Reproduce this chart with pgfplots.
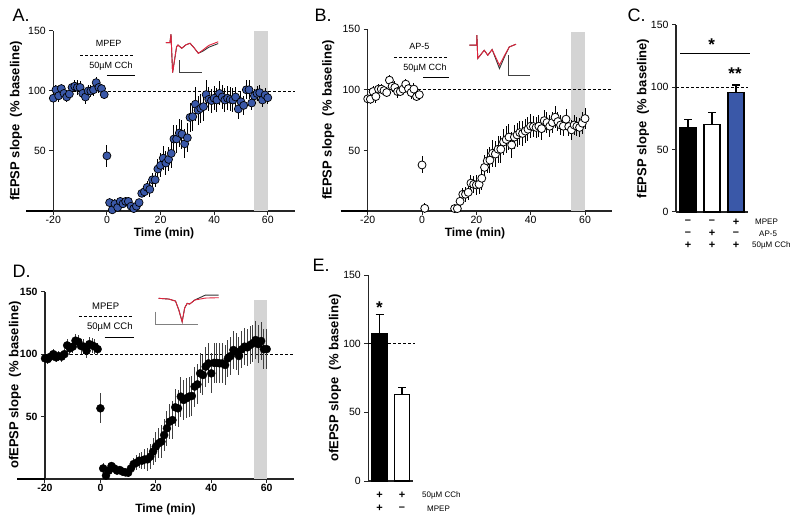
\documentclass[border=0pt]{standalone}
\usepackage{pgfplots}
\usepackage{pgfplotstable}
\pgfplotsset{compat=1.18}
\usepackage{fontspec}
\setmainfont{Liberation Sans}
\definecolor{pblue}{RGB}{58,88,168}
\definecolor{tred}{RGB}{225,35,60}
\definecolor{shade}{RGB}{212,212,212}
\newcommand{\fs}[1]{\fontsize{#1}{#1}\selectfont}

\pgfplotstableread{
t v e
-20 94 4
-19 101 4
-18 96 5
-17 102 4
-16 98 4
-15 95 4
-14 97.5 4
-13 103 4
-12 104 5
-11 103 6
-10 103 5
-9 98 5
-8 95 6
-7 100 5
-6 100 5
-5 101 5
-4 107 5
-3 103 5
-2 102 4
-1 97 4
0 46 9
1 7 4
2 1 3
3 6 4
4 3 3
5 8 3
6 6 3
7 8 3
8 8 3
9 4 3
10 2 3
11 4 3
12 7 3
13 14.7 3
14 16 4
15 19.7 5
16 18 6
17 26 6
18 26 6
19 35 8
20 38 10
21 44 10
22 40 10
23 43 10
24 48 12
25 60 12
26 60 12
27 65 12
28 64 12
29 56 12
30 61 12
31 78 12
32 78.6 12
33 89 14
34 84 12
35 85.5 12
36 87 12
37 97 12
38 93 10
39 92 10
40 94 10
41 92.5 10
42 98 10
43 95 10
44 92.5 10
45 94 10
46 93 10
47 92.5 10
48 95 8
49 85 8
50 91 8
51 88 8
52 101 8
53 101 8
54 90 6
55 96 6
56 98 6
57 98.6 6
58 92.5 6
59 96.7 6
60 94.4 5
}\Adata

\pgfplotstableread{
t v e
-20 92.6 4
-19 92.3 4
-18 98.6 5
-17 94.5 5
-16 100.6 4
-15 100.6 4
-14 99.4 4
-13 97.8 4
-12 108 4
-11 103 5
-10 102 5
-9 98.6 5
-8 98.6 4
-7 100.6 4
-6 104.7 4
-5 101 4
-4 97.8 5
-3 100.6 5
-2 94.5 4
-1 96 4
0 38 7
1 2.2 4
12 2 3
13 2 3
14 8 4
15 13.8 5
16 13.8 6
17 15.4 6
18 23 7
19 22 7
20 21.5 8
21 22 8
22 27 10
23 36 10
24 41.3 10
25 42 11
26 47.7 11
27 47 11
28 51 11
29 51 11
30 57 11
31 59 11
32 61 11
33 54.5 11
34 61 10
35 62.8 10
36 64.7 10
37 64 10
38 66 10
39 67.5 10
40 70 10
41 69.7 9
42 69 9
43 70 9
44 68 9
45 74.6 9
46 73 9
47 70 9
48 73 9
49 77.4 9
50 73.8 8
51 71 8
52 70 8
53 75.8 8
54 69.7 8
55 67 8
56 71 8
57 70 8
58 69 8
59 72.5 9
60 76.3 9
}\Bdata

\pgfplotstableread{
t v e
-20 96.6 4
-19 96 4
-18 98 4
-17 100 4
-16 97.4 4
-15 98.5 4
-14 98 4
-13 100 4
-12 107 5
-11 104.6 5
-10 106 5
-9 110.8 5
-8 110 5
-7 106.5 6
-6 106 6
-5 102.7 6
-4 108 6
-3 107 6
-2 106 6
-1 104 5
0 56.6 12
1 8.5 4
2 2.7 3
3 6.7 3
4 10.4 3
5 8.5 3
6 6.7 3
7 7.2 3
8 5.9 3
9 5.3 3
10 5 3
11 8.5 4
12 12 5
13 13 6
14 14.7 6
15 14.7 7
16 15.7 8
17 15.7 9
18 17.9 10
19 21.9 11
20 25.9 12
21 28.6 12
22 29.9 13
23 35.2 13
24 40.6 14
25 45.9 14
26 47.2 15
27 57.4 15
28 56.6 15
29 66 16
30 63.3 16
31 64.6 16
32 66 16
33 66.5 16
34 74 16
35 75.8 16
36 84.6 16
37 83.3 16
38 90 16
39 92.6 16
40 84.6 16
41 93 16
42 93 16
43 92.6 16
44 92.6 16
45 91.3 16
46 96.6 15
47 98.5 15
48 103.3 15
49 102 15
50 98.5 15
51 103.8 15
52 106 15
53 105.4 15
54 107.3 15
55 108.6 15
56 111.3 15
57 108 15
58 110.5 15
59 104 16
60 104 16
}\Ddata

\pgfplotsset{
  prism/.style={
    scale only axis, clip=false,
    axis x line=bottom, axis y line=left,
    axis line style={-, line width=1.1pt, black!85},
    tick style={line width=1pt, black!85},
    tick align=outside, major tick length=4pt,
    /pgf/number format/assume math mode=true,
    tick label style={font=\fs{10.5}},
    xticklabel style={yshift=2pt},
    ymin=0, ymax=150,
  },
  time/.style={prism, xmin=-20, xmax=70, xtick={-20,0,20,40,60}, ytick={50,100,150}},
  pts/.style={
    error bars/.cd, y dir=both, y explicit, error mark=none,
    error bar style={line width=1pt, black},
    /pgfplots/.cd, only marks, mark=*, mark size=4pt},
  ref/.style={black, line width=0.9pt, dash pattern=on 3pt off 2pt},
  trace/.style={line width=0.9pt, no marks},
  bar/.style={
    error bars/.cd, y dir=plus, y explicit,
    error bar style={line width=1.2pt, black},
    error mark options={rotate=90, mark size=4pt, line width=1.2pt},
    /pgfplots/.cd, ybar, bar width=#1, bar shift=0pt, draw=black, line width=1.3pt},
}

\begin{document}
\begin{tikzpicture}[x=1pt,y=1pt]
\useasboundingbox (0,0) rectangle (800,525);

% ---------------- A ----------------
\begin{axis}[time, at={(53.3pt,314pt)}, anchor=south west, width=241.3pt, height=180pt]
\addplot[fill=shade, draw=none] coordinates {(55,150) (60,150)} \closedcycle;
\addplot[ref] coordinates {(-20,100) (70,100)};
\addplot[black, line width=1.1pt] coordinates {(-30,0) (-20,0)};
\addplot[pts, mark options={fill=pblue, draw=black, line width=0.7pt}]
  table[x=t, y=v, y error=e] {\Adata};
\addplot[ref] coordinates {(-10,130) (10.4,130)};
\addplot[black, line width=1pt] coordinates {(0,112.5) (10.4,112.5)};
\node[font=\fs{9}] at (axis cs:0.6,140) {MPEP};
\node[font=\fs{9}] at (axis cs:1.5,121) {50µM CCh};
\addplot[trace, black!80] coordinates {(22,140.3) (23.5,140.3) (23.9,147.3) (24.5,115.3) (26,137) (26.5,138.3) (27.9,135.6) (29.5,138.5) (31,139.8) (32.5,136) (34.1,131.4) (36,133.5) (38,136.5) (41.5,139.5)};
\addplot[trace, tred] coordinates {(22,140.3) (23.5,140.3) (23.9,147.3) (24.5,115.3) (26,137) (26.5,138.3) (27.9,135.6) (29.5,138.5) (31,139.8) (32.5,136) (34.1,131.4) (36,134.5) (38,138) (41.5,141)};
\addplot[black!75, line width=0.8pt] coordinates {(27.2,125.8) (27.2,115.3) (35.4,115.3)};
\end{axis}

% ---------------- B ----------------
\begin{axis}[time, at={(367.7pt,314pt)}, anchor=south west, width=244.5pt, height=181.7pt]
\addplot[fill=shade, draw=none] coordinates {(55,148) (60,148)} \closedcycle;
\addplot[ref] coordinates {(-20,100) (70,100)};
\addplot[black, line width=1.1pt] coordinates {(-30,0) (-20,0)};
\addplot[pts, mark options={fill=white, draw=black, line width=0.8pt}]
  table[x=t, y=v, y error=e] {\Bdata};
\addplot[ref] coordinates {(-10.2,126.7) (10,126.7)};
\addplot[black, line width=1pt] coordinates {(0.5,110.2) (10,110.2)};
\node[font=\fs{9}] at (axis cs:-1,135.5) {AP-5};
\node[font=\fs{9}] at (axis cs:1.1,117.6) {50µM CCh};
\addplot[trace, black!80] coordinates {(17.4,136.9) (20.1,136.9) (20.2,145.1) (20.5,125.9) (22.9,132.7) (24.2,128.6) (25.8,133.3) (28.5,117.6) (30.5,128) (32.1,135.4) (34.6,137.7)};
\addplot[trace, tred] coordinates {(17.4,136.9) (20.1,136.9) (20.2,145.1) (20.5,125.9) (22.9,132.7) (24.2,128.6) (25.8,133.3) (28.5,120.4) (30.5,129) (32.1,135.4) (34.6,137.7)};
\addplot[black!75, line width=0.8pt] coordinates {(31.8,128.6) (31.8,112.1) (39.9,112.1)};
\end{axis}

% ---------------- C ----------------
\begin{axis}[prism, at={(676pt,313pt)}, anchor=south west, width=72pt, height=187pt,
  xmin=0.5, xmax=3.5, xtick=\empty, ytick={0,50,100,150}]
\addplot[ref] coordinates {(0.5,100) (3.5,100)};
\addplot[bar=16pt, fill=black] coordinates {(1,68) +- (0,6)};
\addplot[bar=16pt, fill=white] coordinates {(2,70) +- (0,10)};
\addplot[bar=16pt, fill=pblue] coordinates {(3,96) +- (0,5.8)};
\addplot[black, line width=1.2pt] coordinates {(0.667,127) (3.58,127)};
\node[font=\bfseries\fs{17}, anchor=base] at (axis cs:1.99,129.5) {*};
\node[font=\bfseries\fs{17}, anchor=base] at (axis cs:2.96,106) {**};
\end{axis}

% ---------------- D ----------------
\begin{axis}[time, at={(45pt,46pt)}, anchor=south west, width=249.4pt, height=187.3pt,
  tick label style={font=\bfseries\fs{10.5}}]
\addplot[fill=shade, draw=none] coordinates {(55.4,143) (60.1,143)} \closedcycle;
\addplot[ref, line width=1.1pt] coordinates {(-20,100) (70,100)};
\addplot[black, line width=1.1pt] coordinates {(-30,0) (-20,0)};
\addplot[pts, error bars/error bar style={black!75, line width=1pt}, mark options={fill=black, draw=black}]
  table[x=t, y=v, y error=e] {\Ddata};
\addplot[ref, line width=1pt] coordinates {(-7.8,130.5) (12,130.5)};
\addplot[black, line width=1pt] coordinates {(1.5,113.4) (12,113.4)};
\node[font=\fs{9.5}] at (axis cs:1.9,138.5) {MPEP};
\node[font=\fs{9.5}] at (axis cs:3.4,121.5) {50µM CCh};
\addplot[trace, black!80] coordinates {(21,144.7) (24.7,144.1) (27.1,142.5) (28.3,135.3) (29.5,125.9) (30.4,136.9) (31.3,140.7) (32.2,140.1) (34,143.3) (37.9,147.3) (42.7,147.3)};
\addplot[trace, tred] coordinates {(21,144.7) (24.7,144.1) (27.1,142.5) (28.3,135.3) (29.5,125.9) (30.4,136.9) (31.3,140.7) (32.2,140.1) (34,143.3) (37.9,144.9) (42.7,145.2)};
\addplot[black!50, line width=0.8pt] coordinates {(19.9,134) (19.9,124.1) (35.1,124.1)};
\end{axis}

% ---------------- E ----------------
\begin{axis}[prism, at={(368.3pt,44pt)}, anchor=south west, width=45pt, height=206pt,
  xmin=0.5, xmax=2.5, xtick=\empty, ytick={0,50,100,150}]
\addplot[ref] coordinates {(0.5,100) (2.58,100)};
\addplot[bar=15.5pt, fill=black] coordinates {(1,107) +- (0,14)};
\addplot[bar=15.5pt, fill=white] coordinates {(2,63) +- (0,5)};
\node[font=\bfseries\fs{17}, anchor=base] at (axis cs:1,122) {*};
\end{axis}

% ---------------- texts ----------------
\node[anchor=west, font=\fs{18}] at (9,510) {A.};
\node[anchor=west, font=\fs{18}] at (311,510) {B.};
\node[anchor=west, font=\fs{18}] at (624,510) {C.};
\node[anchor=west, font=\fs{18}] at (9,253.3) {D.};
\node[anchor=west, font=\fs{18}] at (309,260) {E.};

\node[rotate=90, font=\bfseries\fs{13}] at (16,404) {fEPSP slope~~(\% baseline)};
\node[rotate=90, font=\bfseries\fs{13}] at (328.3,405) {fEPSP slope~~(\% baseline)};
\node[rotate=90, font=\bfseries\fs{13}] at (643,406.5) {fEPSP slope~~(\% baseline)};
\node[rotate=90, font=\bfseries\fs{13}] at (15,140) {ofEPSP slope~~(\% baseline)};
\node[rotate=90, font=\bfseries\fs{13}] at (335,147) {ofEPSP slope~~(\% baseline)};

\node[font=\bfseries\fs{12}, inner sep=0pt] at (164,291.5) {Time (min)};
\node[font=\bfseries\fs{12}, inner sep=0pt] at (475,291.5) {Time (min)};
\node[font=\bfseries\fs{12}, inner sep=0pt] at (165.5,16) {Time (min)};

% C condition rows
\foreach \x/\s in {688/--, 712/--, 736/+} \node[font=\bfseries\fs{11}, inner sep=0pt] at (\x,303) {\s};
\foreach \x/\s in {688/--, 712/+, 736/--} \node[font=\bfseries\fs{11}, inner sep=0pt] at (\x,291.5) {\s};
\foreach \x/\s in {688/+, 712/+, 736/+} \node[font=\bfseries\fs{11}, inner sep=0pt] at (\x,279.3) {\s};
\node[anchor=west, font=\fs{8}, inner sep=0pt] at (755,303) {MPEP};
\node[anchor=west, font=\fs{8}, inner sep=0pt] at (759,291.5) {AP-5};
\node[anchor=west, font=\fs{8}, inner sep=0pt] at (752,279.3) {50µM CCh};

% E condition rows
\foreach \x/\s in {379.6/+, 402/+} \node[font=\bfseries\fs{11}, inner sep=0pt] at (\x,29.3) {\s};
\foreach \x/\s in {379.6/+, 402/--} \node[font=\bfseries\fs{11}, inner sep=0pt] at (\x,16.7) {\s};
\node[anchor=west, font=\fs{8}, inner sep=0pt] at (422,29.3) {50µM CCh};
\node[anchor=west, font=\fs{8}, inner sep=0pt] at (427,16.7) {MPEP};
\end{tikzpicture}
\end{document}
